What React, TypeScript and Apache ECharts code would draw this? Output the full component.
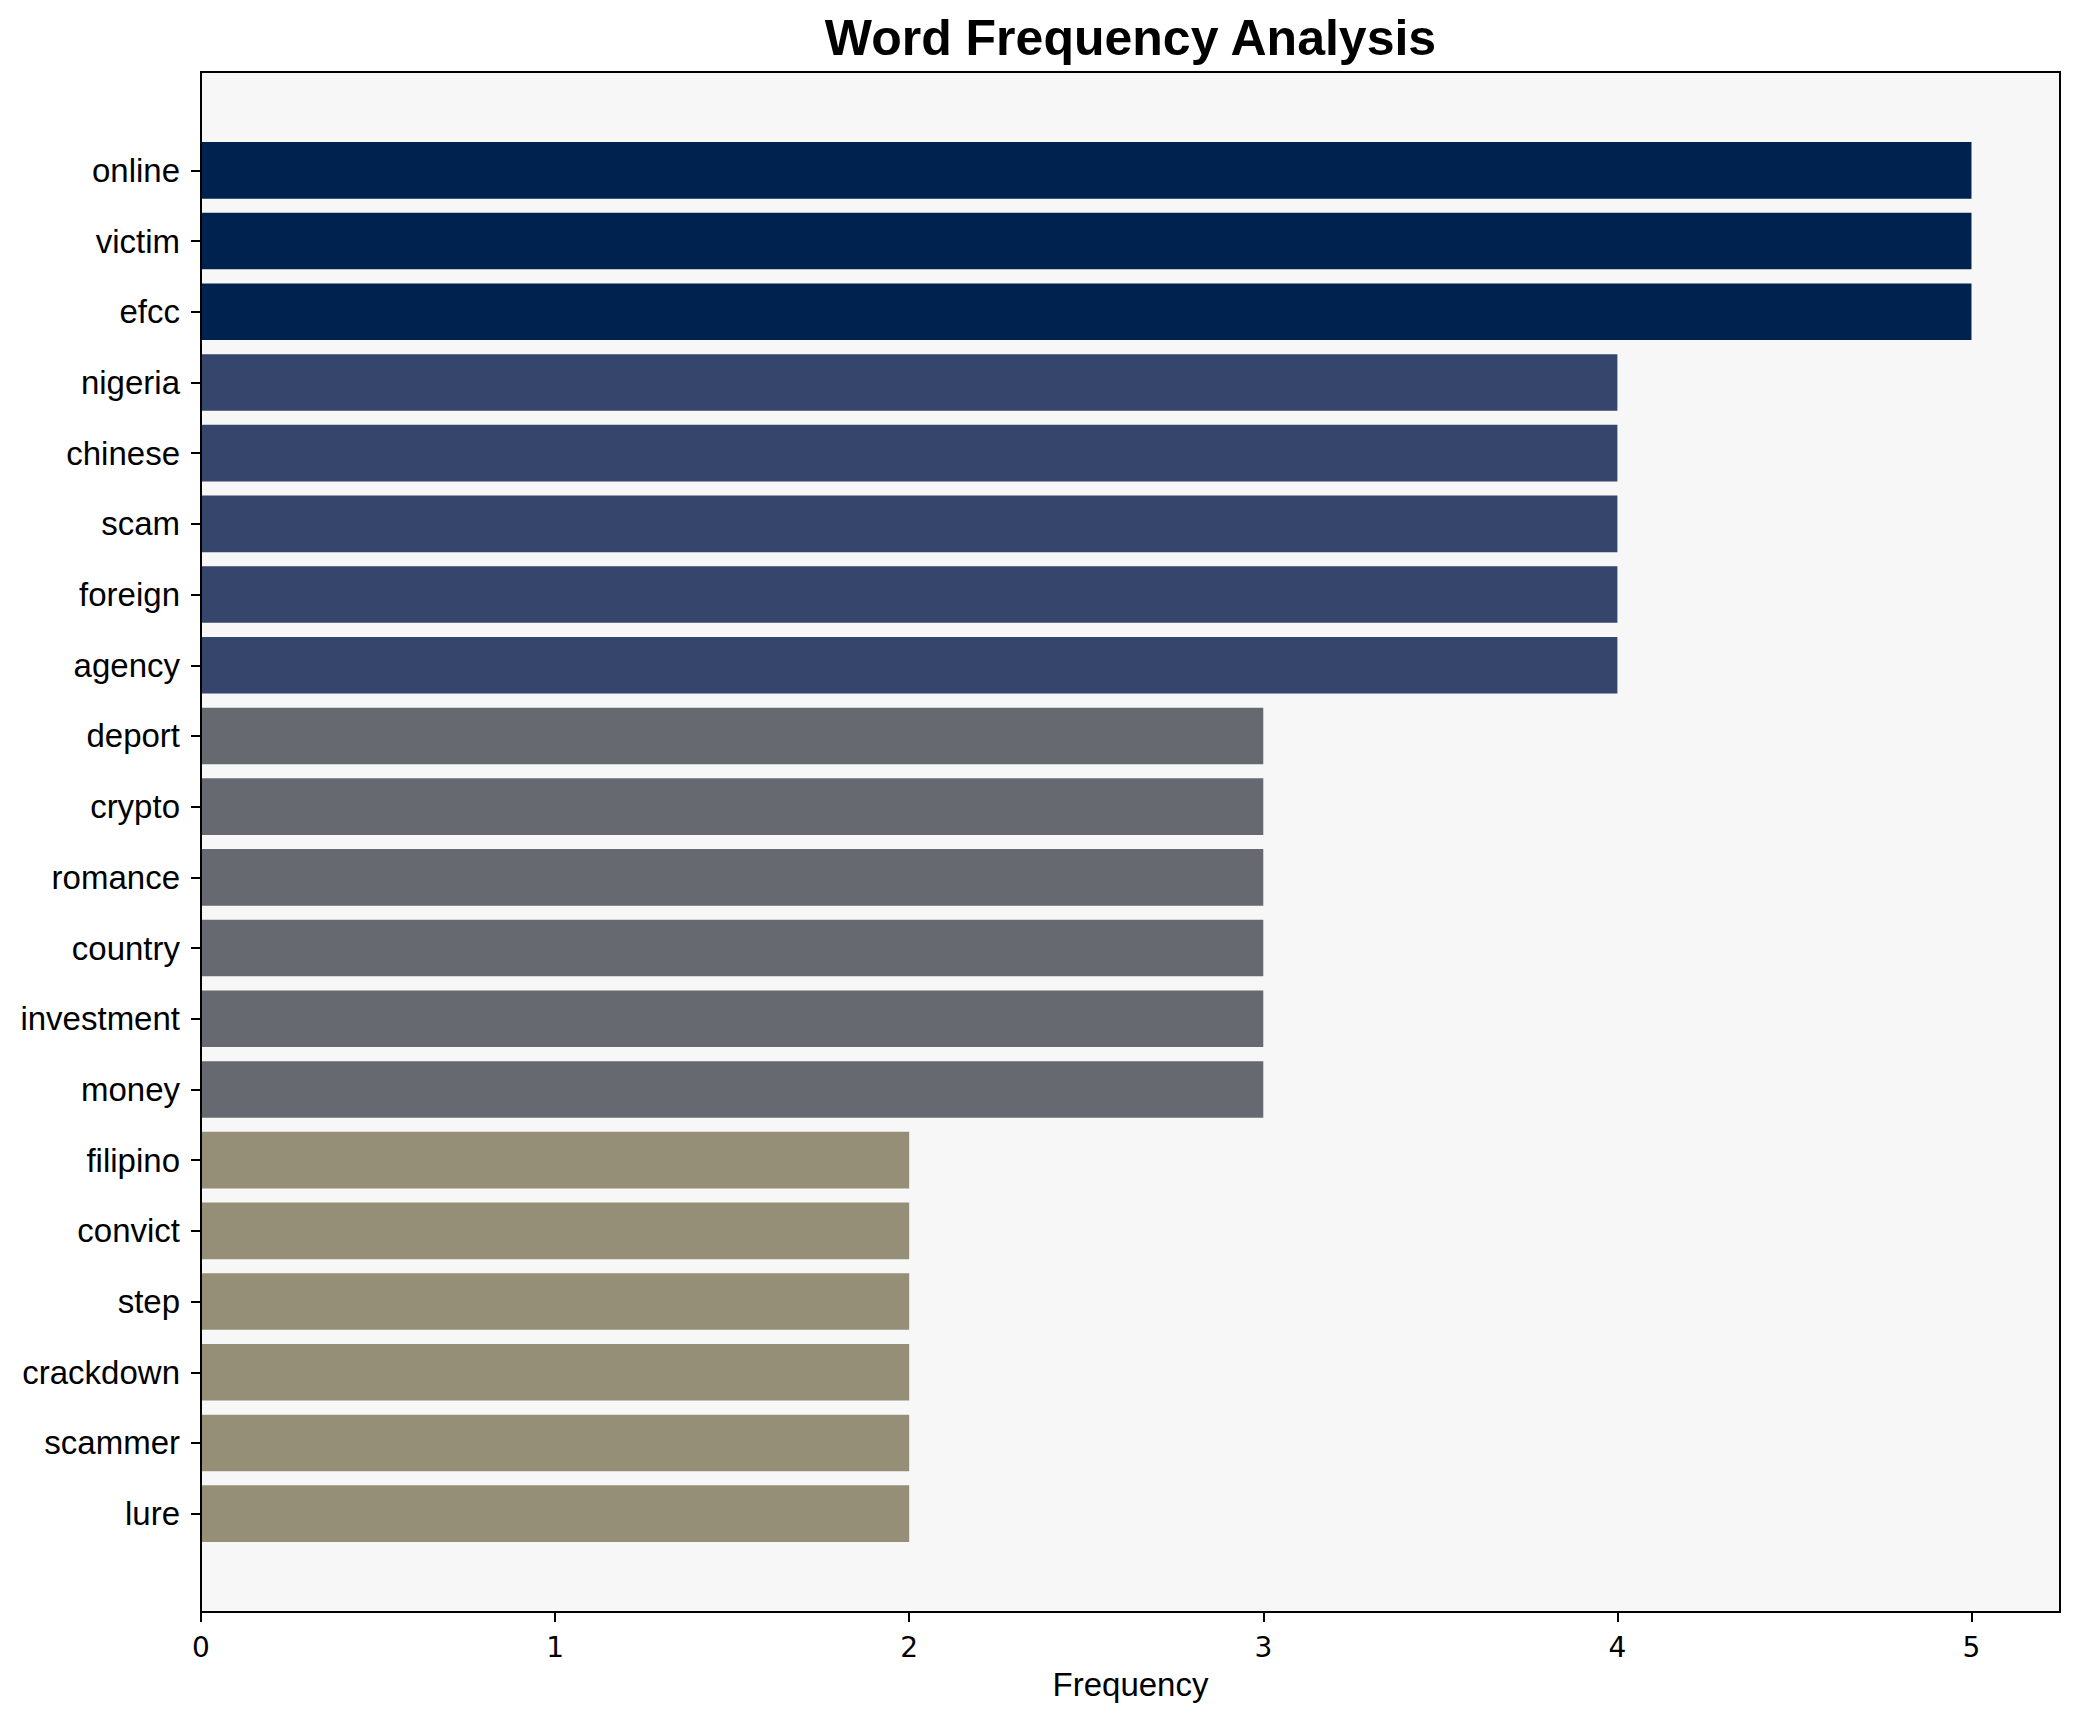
import React, { useEffect, useRef } from "react";
import * as echarts from "echarts";

const words = [
  "online", "victim", "efcc", "nigeria", "chinese", "scam", "foreign", "agency",
  "deport", "crypto", "romance", "country", "investment", "money",
  "filipino", "convict", "step", "crackdown", "scammer", "lure",
];
const frequencies = [5, 5, 5, 4, 4, 4, 4, 4, 3, 3, 3, 3, 3, 3, 2, 2, 2, 2, 2, 2];
const xTicks = [0, 1, 2, 3, 4, 5];
const colorByValue: Record<number, string> = {
  5: "#00224e",
  4: "#35456c",
  3: "#666970",
  2: "#958f78",
};

const W = 2080;
const H = 1722;
const LEFT = 201;
const TOP = 72;
const RIGHT = 20;
const BOTTOM = 110;
const PAD = 63;

export default function App() {
  const ref = useRef<HTMLDivElement>(null);
  useEffect(() => {
    if (!ref.current) return;
    const chart = echarts.init(ref.current, undefined, { renderer: "svg" });
    const plotW = W - LEFT - RIGHT;
    const plotH = H - TOP - BOTTOM;
    chart.setOption({
      animation: false,
      backgroundColor: "#ffffff",
      textStyle: { fontFamily: "'Liberation Sans', Arial, sans-serif" },
      grid: [
        {
          left: LEFT, top: TOP, right: RIGHT, bottom: BOTTOM,
          show: true, backgroundColor: "#f7f7f7", borderWidth: 0,
        },
        {
          left: LEFT, top: TOP + PAD, right: RIGHT, bottom: BOTTOM + PAD,
          show: false,
        },
      ],
      xAxis: [
        {
          gridIndex: 0,
          type: "value",
          min: 0,
          max: 5.25,
          interval: 1,
          splitLine: { show: false },
          axisLine: { show: true, lineStyle: { color: "#000", width: 2 } },
          axisTick: {
            show: true, length: 10, customValues: xTicks,
            lineStyle: { color: "#000", width: 2 },
          },
          axisLabel: {
            show: true,
            margin: 21,
            color: "#000",
            fontSize: 28,
            fontFamily: "DejaVu Sans",
            customValues: xTicks,
            formatter: (v: number) => (xTicks.includes(v) ? String(v) : ""),
          },
          name: "Frequency",
          nameLocation: "middle",
          nameGap: 56,
          nameTextStyle: { fontSize: 33, color: "#000", fontFamily: "'Liberation Sans', Arial, sans-serif" },
        },
        {
          gridIndex: 1,
          type: "value",
          min: 0,
          max: 5.25,
          show: false,
          splitLine: { show: false },
        },
      ],
      yAxis: [
        { gridIndex: 0, type: "value", show: false, min: 0, max: 1, splitLine: { show: false } },
        {
          gridIndex: 1,
          type: "category",
          data: words,
          inverse: true,
          axisLine: { show: false },
          axisTick: { show: true, alignWithLabel: true, length: 10, lineStyle: { color: "#000", width: 2 } },
          axisLabel: {
            margin: 21,
            color: "#000",
            fontSize: 33,
            fontFamily: "'Liberation Sans', Arial, sans-serif",
            interval: 0,
          },
          splitLine: { show: false },
        },
      ],
      series: [
        {
          type: "bar",
          xAxisIndex: 1,
          yAxisIndex: 1,
          barCategoryGap: "20%",
          data: frequencies.map((v) => ({ value: v, itemStyle: { color: colorByValue[v] } })),
        },
      ],
      graphic: [
        {
          type: "rect",
          z: 100,
          shape: { x: LEFT, y: TOP, width: plotW, height: plotH },
          style: { fill: "none", stroke: "#000", lineWidth: 2 },
          silent: true,
        },
        {
          type: "text",
          z: 100,
          x: LEFT + plotW / 2,
          y: 38,
          style: {
            text: "Word Frequency Analysis",
            font: "bold 50px 'Liberation Sans', Arial, sans-serif",
            fill: "#000",
            textAlign: "center",
            textVerticalAlign: "middle",
          },
        },
      ],
    });
    return () => chart.dispose();
  }, []);
  return (
    <div
      ref={ref}
      style={{ position: "fixed", left: 0, top: 0, width: W, height: H }}
    />
  );
}
